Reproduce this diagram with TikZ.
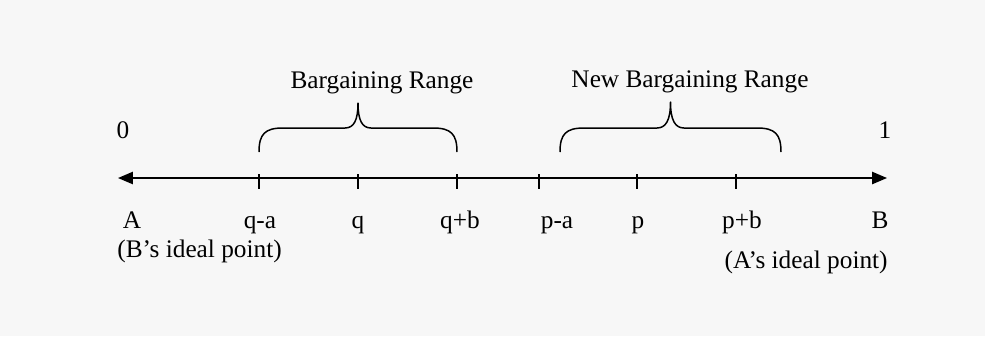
\documentclass[tikz,border=0pt]{standalone}
\usepackage{fontspec}
\setmainfont{Liberation Serif}
\definecolor{bgGray}{HTML}{F7F7F7}
\usetikzlibrary{arrows.meta}

\begin{document}
\begin{tikzpicture}[x=0.02cm, y=-0.02cm, >={Triangle[length=8.5pt, width=7pt]},
    every node/.style={font=\fontsize{14.4}{17}\selectfont, inner sep=0pt},
    axisline/.style={line width=0.85pt},
    tickmark/.style={line width=0.85pt},
    rangebrace/.style={line width=0.85pt, line join=round}]
    % Background (fixes the size of the picture)
    \fill[bgGray] (0,0) rectangle (985,336);
    \useasboundingbox (0,0) rectangle (985,336);

    % The line from 0 to 1
    \coordinate (axL) at (118,178);
    \coordinate (axR) at (887,178);
    \draw[axisline, <->] (axL) -- (axR);
    \node[anchor=base] (zero) at (123,138) {0};
    \node[anchor=base] (one) at (885,138) {1};

    % Tick marks
    \foreach \x/\name in {259/qa, 358/q, 457/qb, 539/pa, 637/p, 736/pb}
        \draw[tickmark] (\x,174) -- (\x,189) coordinate (t\name);

    % Labels under the line
    \node[anchor=base] (lblA) at (132,228) {A};
    \node[anchor=base] (lblqa) at (260,228) {q-a};
    \node[anchor=base] (lblq) at (358,228) {q};
    \node[anchor=base] (lblqb) at (460,228) {q+b};
    \node[anchor=base] (lblpa) at (557,228) {p-a};
    \node[anchor=base] (lblp) at (638,228) {p};
    \node[anchor=base] (lblpb) at (742,228) {p+b};
    \node[anchor=base] (lblB) at (880,228) {B};
    \node[anchor=base west] (idealB) at (117,257) {(B’s ideal point)};
    \node[anchor=base east] (idealA) at (888,268) {(A’s ideal point)};

    % Bargaining range brace
    \draw[rangebrace] (259,152) .. controls (259,134) and (265,128) .. (283,128) -- (345,128)
        .. controls (354,128) and (358,120) .. (358,103)
        .. controls (358,120) and (362,128) .. (371,128) -- (433,128)
        .. controls (451,128) and (457,134) .. (457,152);
    \node[anchor=base] (oldRange) at (382,88) {Bargaining Range};

    % New bargaining range brace
    \draw[rangebrace] (560,152) .. controls (560,134) and (566,128) .. (584,128) -- (657,128)
        .. controls (666,128) and (670.5,120) .. (670.5,102)
        .. controls (670.5,120) and (675,128) .. (684,128) -- (757,128)
        .. controls (775,128) and (781,134) .. (781,152);
    \node[anchor=base] (newRange) at (690,87) {New Bargaining Range};
\end{tikzpicture}
\end{document}
